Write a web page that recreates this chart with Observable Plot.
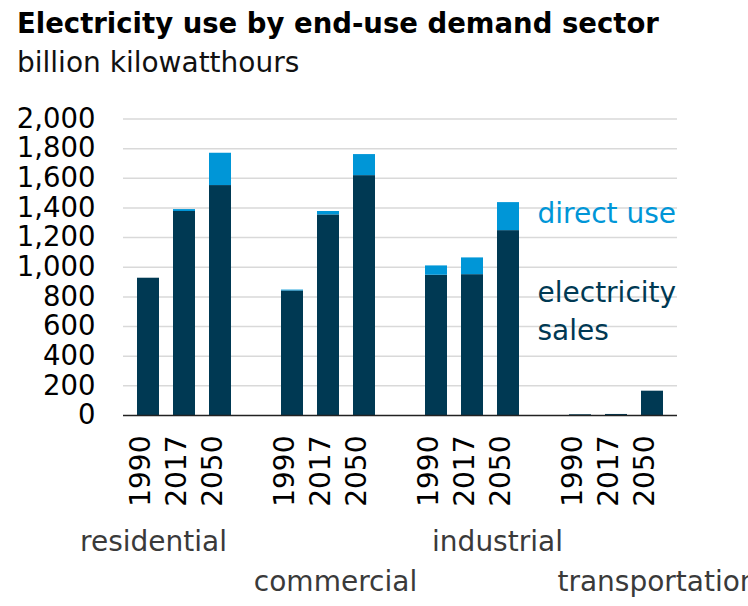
<!DOCTYPE html>
<html>
<head>
<meta charset="utf-8">
<script src="https://cdn.jsdelivr.net/npm/d3@7"></script>
<script src="https://cdn.jsdelivr.net/npm/@observablehq/plot@0.6"></script>
<style>
  html, body { margin: 0; padding: 0; background: #fff; }
  #wrap { position: relative; width: 748px; height: 606px; overflow: hidden; font-family: "DejaVu Sans", sans-serif; }
  #title { position: absolute; left: 17px; top: 10px; font-weight: bold; font-size: 27.5px; line-height: 1; white-space: nowrap; color: #000; }
  #subtitle { position: absolute; left: 17px; top: 49px; font-size: 28px; line-height: 1; white-space: nowrap; color: #111; }
  #chart { position: absolute; left: 0; top: 85px; }
</style>
</head>
<body>
<div id="wrap">
  <div id="title">Electricity use by end-use demand sector</div>
  <div id="subtitle">billion kilowatthours</div>
  <div id="chart"></div>
</div>
<script>
// ---- data ----
const sectors = ["residential", "commercial", "industrial", "transportation"];
const years = ["1990", "2017", "2050"];
const seriesNames = ["electricity sales", "direct use"];
// order: sector by sector, years 1990, 2017, 2050
const salesValues  = [926, 1376, 1551,  840, 1353, 1618,  946, 950, 1247,  5, 7, 164];
const directValues = [  0,   13,  218,    6,   23,  142,   63, 113,  189,  0, 0,   0];
const yTicks = [0, 200, 400, 600, 800, 1000, 1200, 1400, 1600, 1800, 2000];

// ---- build table ----
const keys = [];
sectors.forEach((s, i) => {
  years.forEach(y => keys.push(s + " " + y));
  if (i < sectors.length - 1) keys.push("gap" + i);
});
const barKeys = keys.filter(k => !k.startsWith("gap"));
const rows = [];
sectors.forEach((s, i) => years.forEach((y, j) => {
  const k = i * years.length + j;
  rows.push({key: s + " " + y, type: seriesNames[0], value: salesValues[k]});
  rows.push({key: s + " " + y, type: seriesNames[1], value: directValues[k]});
}));
const darkBlue = "#003953", lightBlue = "#0096d7";

// legend anchored to the industrial 2050 bar
const ki = sectors.indexOf("industrial") * 3 + 2;
const legendAnchor = [{key: "industrial 2050", sales: salesValues[ki], direct: directValues[ki]}];

// sector label layout offsets (px)
const sectorShift = {
  residential: {dx: -31, dy: 135},
  commercial: {dx: 7, dy: 175},
  industrial: {dx: 25, dy: 135},
  transportation: {dx: 41, dy: 175}
};

const chart = Plot.plot({
  width: 748,
  height: 521,
  marginTop: 33.5,
  marginBottom: 191,
  marginLeft: 123,
  marginRight: 71,
  style: {fontFamily: '"DejaVu Sans", sans-serif', fontSize: "28px", color: "#000", background: "transparent", overflow: "visible"},
  x: {domain: keys, paddingInner: 0.4, paddingOuter: 0.2},
  y: {domain: [0, 2000]},
  color: {domain: seriesNames, range: [darkBlue, lightBlue]},
  marks: [
    Plot.gridY(yTicks.filter(d => d > 0), {stroke: "#d9d9d9", strokeOpacity: 1, strokeWidth: 1.5}),
    Plot.barY(rows, {x: "key", y: "value", fill: "type"}),
    Plot.ruleY([0], {stroke: "#222", strokeWidth: 1.5}),
    Plot.axisY(yTicks, {tickSize: 0, tickPadding: 28, tickFormat: d3.format(","), fontSize: 27.5, fill: "#000", label: null}),
    Plot.axisX(barKeys, {tickSize: 0, tickPadding: 20, tickRotate: -90, dx: -7, tickFormat: k => k.split(" ")[1], fontSize: 28, fill: "#000", label: null}),
    ...sectors.map(s => Plot.text([s], {
      x: d => d + " " + years[1], text: d => d, frameAnchor: "bottom",
      dx: sectorShift[s].dx, dy: sectorShift[s].dy, fontSize: 28, fill: "#3a3a3a"
    })),
    Plot.text(legendAnchor, {
      x: "key", y: d => d.sales + d.direct / 2, text: () => seriesNames[1],
      textAnchor: "start", dx: 29, dy: -3, fontSize: 28, fill: lightBlue
    }),
    Plot.text(legendAnchor, {
      x: "key", y: d => d.sales / 2, text: () => seriesNames[0].replace(" ", "\n"),
      textAnchor: "start", dx: 29, dy: -14, lineHeight: 1.36, fontSize: 28, fill: darkBlue
    })
  ]
});
document.getElementById("chart").appendChild(chart);
</script>
</body>
</html>
